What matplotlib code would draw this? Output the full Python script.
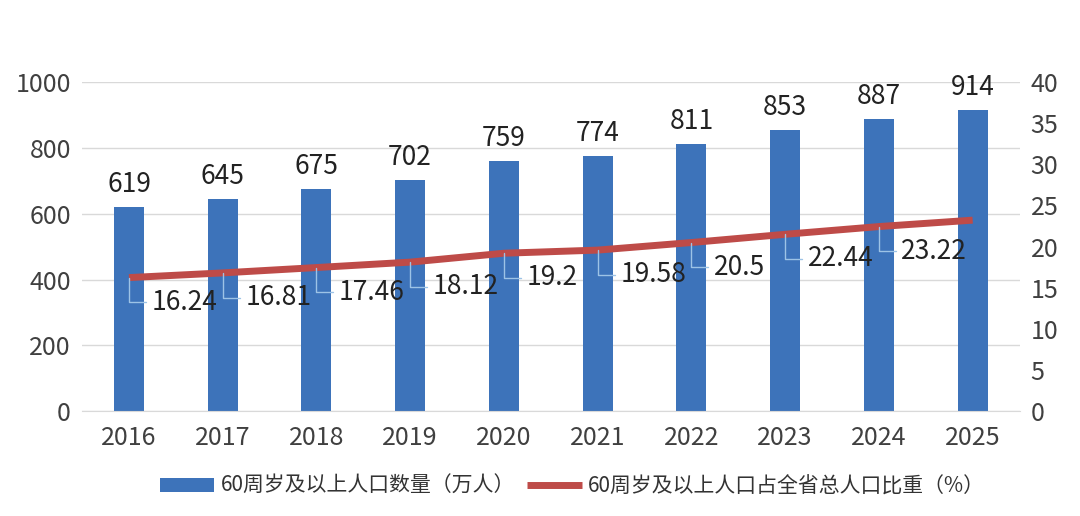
import matplotlib.pyplot as plt

plt.rcParams['font.family'] = ['Noto Sans CJK SC', 'DejaVu Sans']

years = ['2016', '2017', '2018', '2019', '2020', '2021', '2022', '2023', '2024', '2025']
counts = [619, 645, 675, 702, 759, 774, 811, 853, 887, 914]
# line values; labels as printed on the chart
shares = [16.24, 16.81, 17.46, 18.12, 19.2, 19.58, 20.5, 21.5, 22.44, 23.22]
share_labels = ['16.24', '16.81', '17.46', '18.12', '19.2', '19.58', '20.5', '22.44', '23.22']

fig = plt.figure(figsize=(10.8, 5.16), dpi=100)
ax = fig.add_axes([0.076, 0.203, 0.868, 0.638])
ax2 = ax.twinx()

x = list(range(len(years)))
ax.bar(x, counts, width=0.32, color='#3D73BA', label='60周岁及以上人口数量（万人）', zorder=2)
for xi, v in zip(x, counts):
    ax.text(xi, v + 28, str(v), ha='center', va='bottom', fontsize=19, color='#222222')

ax.set_ylim(0, 1000)
ax.set_yticks(range(0, 1001, 200))
ax.set_xlim(-0.5, 9.5)
ax.set_xticks(x)
ax.set_xticklabels(years)
ax.grid(axis='y', color='#D9D9D9', linewidth=1, zorder=0)
ax.set_axisbelow(True)

ax2.plot(x, shares, color='#BE4B48', linewidth=5, solid_capstyle='butt',
         label='60周岁及以上人口占全省总人口比重（%）', zorder=3)
ax2.set_ylim(0, 40)
ax2.set_yticks(range(0, 41, 5))

# leader-line labels sit below-right of points 2016..2024
for i, t in enumerate(share_labels):
    yi = shares[i]
    ax2.annotate(t, xy=(i, yi), xytext=(i + 0.24, yi - 3.0), fontsize=19, color='#222222',
                 ha='left', va='center',
                 arrowprops=dict(arrowstyle='-', color='#9DC3E6', lw=1,
                                 connectionstyle='angle,angleA=0,angleB=90,rad=0',
                                 shrinkA=2, shrinkB=0))

for a in (ax, ax2):
    for s in ('top', 'left', 'right'):
        a.spines[s].set_visible(False)
    a.tick_params(length=0, labelsize=18, colors='#404040')
ax.spines['bottom'].set_color('#D9D9D9')
ax2.spines['bottom'].set_visible(False)
ax.tick_params(axis='x', pad=10)
ax.tick_params(axis='y', pad=8)
ax2.tick_params(axis='y', pad=8)

h1, l1 = ax.get_legend_handles_labels()
h2, l2 = ax2.get_legend_handles_labels()
fig.legend(h1 + h2, l1 + l2, loc='lower center', bbox_to_anchor=(0.53, 0.0), ncol=2,
           frameon=False, fontsize=15, handlelength=2.6, columnspacing=0.6, handletextpad=0.3,
           labelcolor='#333333')

fig.savefig('out.png', dpi=100)
